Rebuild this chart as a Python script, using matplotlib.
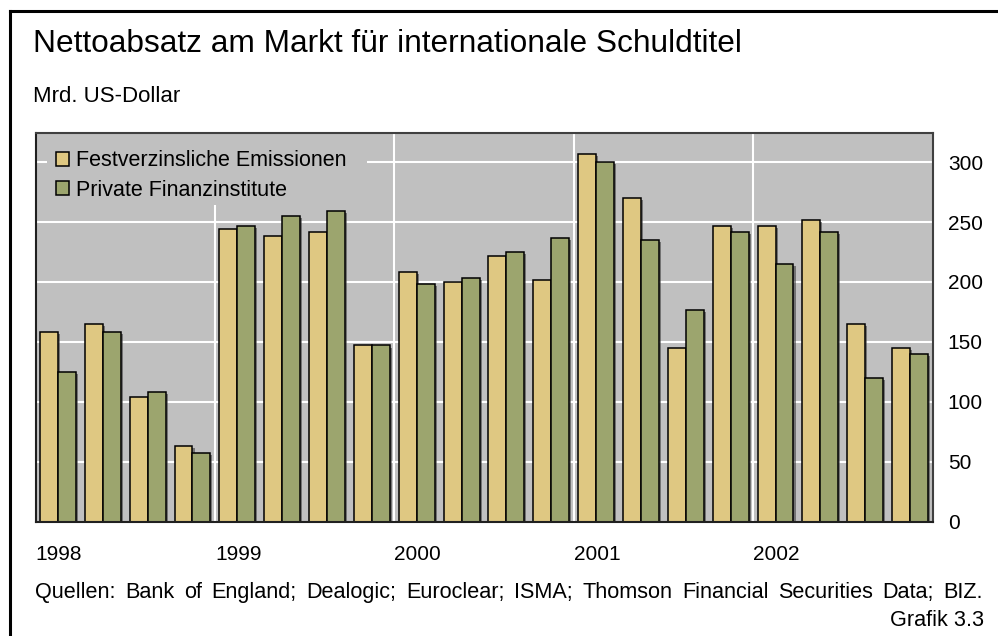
import matplotlib
matplotlib.use("Agg")
import matplotlib.pyplot as plt
import matplotlib.patheffects as pe
from matplotlib.patches import Rectangle
import matplotlib.transforms as mtransforms
import numpy as np

plt.rcParams['font.family'] = ['Liberation Sans', 'DejaVu Sans']

years = ["1998", "1999", "2000", "2001", "2002"]
festverzinslich = [158, 165, 104, 63, 244, 238, 242, 147,
                   208, 200, 222, 202, 307, 270, 145, 247,
                   247, 252, 165, 145]
private_fin = [125, 158, 108, 57, 247, 255, 259, 147,
               198, 203, 225, 237, 300, 235, 177, 242,
               215, 242, 120, 140]
yticks = [0, 50, 100, 150, 200, 250, 300]
legend_labels = ["Festverzinsliche Emissionen", "Private Finanzinstitute"]
title = "Nettoabsatz am Markt für internationale Schuldtitel"
unit = "Mrd. US-Dollar"
source = "Quellen: Bank of England; Dealogic; Euroclear; ISMA; Thomson Financial Securities Data; BIZ."
chart_no = "Grafik 3.3"

W, H = 998, 636
fig = plt.figure(figsize=(W / 100, H / 100), dpi=100)
fig.patch.set_facecolor('white')

# outer frame
fig.add_artist(plt.Line2D([10 / W, 10 / W], [0, 1 - 11 / H], color='black', lw=2.2,
                          transform=fig.transFigure))
fig.add_artist(plt.Line2D([10 / W, 1], [1 - 11 / H, 1 - 11 / H], color='black', lw=2.2,
                          transform=fig.transFigure))

left, right, top, bottom = 35.5, 932.5, 133.3, 521.7
aw, ah = right - left, bottom - top
ax = fig.add_axes([left / W, 1 - bottom / H, aw / W, ah / H])
ax.set_facecolor('#C0C0C0')

n = len(festverzinslich)
x = np.arange(n)
w = 0.4
shadow = [pe.SimplePatchShadow(offset=(1.5, -1.5), shadow_rgbFace='#404040', alpha=0.6), pe.Normal()]
b1 = ax.bar(x - w / 2, festverzinslich, width=w, color='#DFC882', edgecolor='black',
            linewidth=1.1, zorder=3, label=legend_labels[0])
b2 = ax.bar(x + w / 2, private_fin, width=w, color='#9CA56E', edgecolor='black',
            linewidth=1.1, zorder=3, label=legend_labels[1])
for b in list(b1) + list(b2):
    b.set_path_effects(shadow)

ax.set_xlim(-0.5, n - 0.5)
ax.set_ylim(0, 324)

ax.set_yticks(yticks)
ax.yaxis.tick_right()
ax.tick_params(axis='y', length=0, pad=11, labelsize=15)
ax.set_xticks([])
for yv in yticks[1:]:
    ax.axhline(yv, color='white', lw=1.5, zorder=1)
for k in range(1, len(years)):
    ax.axvline(4 * k - 0.5, color='white', lw=1.5, zorder=1)

for s in ['top', 'right']:
    ax.spines[s].set_color('#404040')
    ax.spines[s].set_linewidth(1.5)
for s in ['left', 'bottom']:
    ax.spines[s].set_color('#202020')
    ax.spines[s].set_linewidth(1.5)
for s in ax.spines.values():
    s.set_zorder(5)

# year labels
ytrans = ax.get_xaxis_transform() + mtransforms.ScaledTranslation(0, -38 / 100, fig.dpi_scale_trans)
for k, yr in enumerate(years):
    ax.text(4 * k - 0.5, 0, yr, transform=ytrans, ha='left', va='baseline', fontsize=15)

# legend background block (hides gridlines behind legend)
ax.add_patch(Rectangle(((47 - left) / aw, 1 - (205 - top) / ah), (367 - 47) / aw, (205 - top) / ah,
                       transform=ax.transAxes, facecolor='#C0C0C0', edgecolor='none', zorder=2))

leg = ax.legend(loc='upper left', bbox_to_anchor=((55.5 - left) / aw, 1 - (150.5 - top) / ah),
                fontsize=15.5, frameon=False,
                handlelength=0.65, handleheight=0.65, handletextpad=0.3,
                labelspacing=0.38, borderpad=0.0, borderaxespad=0.0)
leg.set_zorder(4)
for h in leg.legend_handles:
    h.set_path_effects([])

fig.text(33 / W, 1 - 51.7 / H, title, fontsize=22.8, ha='left', va='baseline')
fig.text(33 / W, 1 - 101.7 / H, unit, fontsize=16, ha='left', va='baseline')

# justified source line
renderer = fig.canvas.get_renderer()
words = source.split(" ")
x0, x1, yb = 35.0, 983.0, 598.0
arts = [fig.text(0, 1 - yb / H, wd, fontsize=15.6, ha='left', va='baseline') for wd in words]
widths = [a.get_window_extent(renderer).width for a in arts]
gap = (x1 - x0 - sum(widths)) / (len(words) - 1)
pos = x0
for a, wd in zip(arts, widths):
    a.set_x(pos / W)
    pos += wd + gap

fig.text(984 / W, 1 - 626.5 / H, chart_no, fontsize=15.6, ha='right', va='baseline')

fig.savefig("out.png", dpi=100)
